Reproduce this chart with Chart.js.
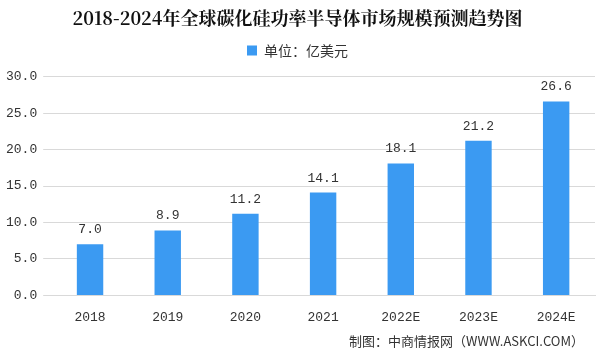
<!DOCTYPE html>
<html><head><meta charset="utf-8">
<script src="https://cdn.jsdelivr.net/npm/chart.js@4"></script>
<style>html,body{margin:0;padding:0;background:#fff}#wrap{width:600px;height:356px;position:relative}</style>
</head><body><div id="wrap"><canvas id="c" width="600" height="356"></canvas></div>
<script>
const categories = ["2018","2019","2020","2021","2022E","2023E","2024E"];
const values = [7.0, 8.9, 11.2, 14.1, 18.1, 21.2, 26.6];
const seriesName = "单位：亿美元";
const titleText = "2018-2024年全球碳化硅功率半导体市场规模预测趋势图";
const sourceText = "制图：中商情报网（WWW.ASKCI.COM）";

const legendGap = {
  id: 'legendGap',
  afterInit(chart) {
    const lg = chart.legend;
    if (lg) {
      const orig = lg.fit;
      lg.fit = function () { orig.call(this); this.height += 9; };
    }
  }
};

const labelPlugin = {
  id: 'lbl',
  afterDatasetsDraw(chart) {
    const ctx = chart.ctx;
    const meta = chart.getDatasetMeta(0);
    ctx.save();
    ctx.font = '13px "Liberation Mono", monospace';
    ctx.fillStyle = '#333';
    ctx.textAlign = 'center';
    ctx.textBaseline = 'bottom';
    meta.data.forEach((b, i) => {
      ctx.fillText(values[i].toFixed(1), b.x, b.y - 8);
    });
    ctx.font = '13px "Noto Sans CJK SC", sans-serif';
    ctx.textAlign = 'right';
    ctx.textBaseline = 'middle';
    ctx.fillText(sourceText, 584, 341);
    ctx.restore();
  }
};

new Chart(document.getElementById('c'), {
  type: 'bar',
  data: { labels: categories, datasets: [{ label: seriesName, data: values, backgroundColor: '#3b9af2', barPercentage: 0.34, categoryPercentage: 1.0 }] },
  options: {
    responsive: false, animation: false,
    layout: { padding: { left: 0, right: 5, top: 5, bottom: 25 } },
    plugins: {
      title: { display: true, text: titleText, color: '#111', font: { family: '"Noto Serif CJK SC","Noto Sans CJK SC", serif', size: 18, weight: 'bold' }, padding: { top: 2, bottom: 5 } },
      legend: { display: true, labels: { color: '#333', boxWidth: 10, boxHeight: 10, font: { family: '"Noto Sans CJK SC", sans-serif', size: 14 } } },
      tooltip: { enabled: false }
    },
    scales: {
      x: { grid: { display: false }, border: { color: '#d9d9d9' }, ticks: { color: '#333', font: { family: '"Liberation Mono", monospace', size: 13 }, padding: 6 } },
      y: { min: 0, max: 30, ticks: { stepSize: 5, color: '#333', callback: v => v.toFixed(1), font: { family: '"Liberation Mono", monospace', size: 13 }, padding: 6 }, grid: { color: '#d9d9d9' }, border: { display: false } }
    }
  },
  plugins: [legendGap, labelPlugin]
});
</script></body></html>
